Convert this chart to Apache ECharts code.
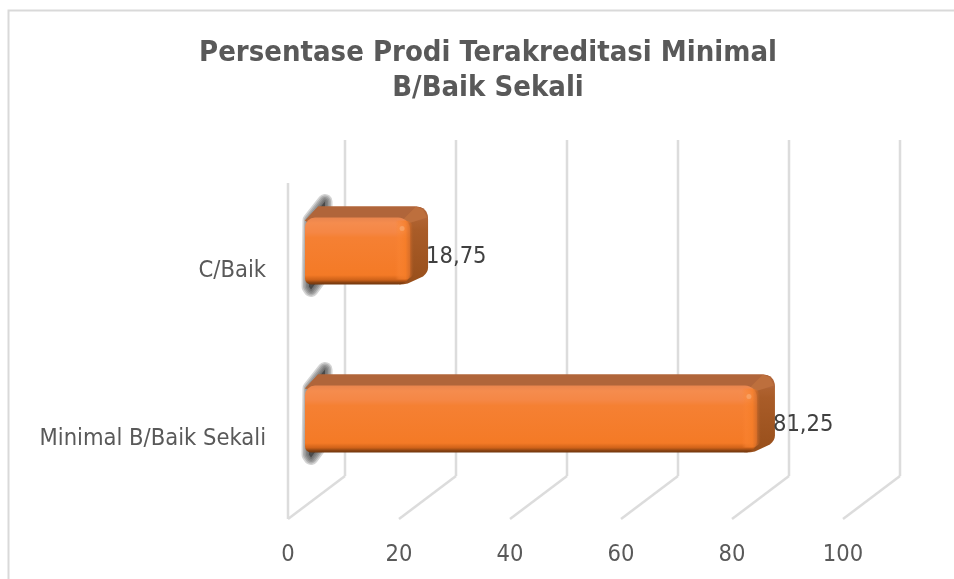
<!DOCTYPE html>
<html><head><meta charset="utf-8">
<style>html,body{margin:0;padding:0;background:#fff}#c{width:954px;height:579px}</style>
<script src="https://cdn.jsdelivr.net/npm/echarts@6/dist/echarts.min.js"></script>
</head><body><div id="c"></div>
<script>
var categories = ['Minimal B/Baik Sekali', 'C/Baik'];
var values = [81.25, 18.75];
var valueLabels = ['81,25', '18,75'];
var ticks = [0, 20, 40, 60, 80, 100];
var titleText = 'Persentase Prodi Terakreditasi Minimal\nB/Baik Sekali';
var FONT = 'DejaVu Sans Condensed, DejaVu Sans';
var chart = echarts.init(document.getElementById('c'), null, {renderer:'canvas'});
var DX = 57, DY = 43;
function wallItem(params, api) {
  var v = api.value(0);
  var p = api.coord([v, 0]);
  var cs = params.coordSys;
  var x = p[0], bottom = cs.y + cs.height, top = cs.y;
  var st = {stroke:'#dcdcdc', lineWidth:2.5, fill:null};
  var kids = [
    {type:'line', shape:{x1:x, y1:bottom, x2:x+DX, y2:bottom-DY}, style:st},
    {type:'line', shape:{x1:x+DX, y1:bottom-DY, x2:x+DX, y2:top-DY}, style:st}
  ];
  if (v === 0) kids.push({type:'line', shape:{x1:x, y1:bottom, x2:x, y2:top}, style:st});
  return {type:'group', children:kids};
}
function barItem(params, api) {
  var v = api.value(0), c = api.value(1);
  var end = api.coord([v, c]), start = api.coord([0, c]);
  var ox = 17, oy = -16, h = 67, dx = 18, dy = 11;
  var x0 = start[0] + ox, x1 = end[0] + ox + 1, yc = end[1] + oy;
  var t = yc - h/2, b = yc + h/2;
  var ox1 = x1 + dx, ty = t - dy, by = b - dy;
  var sil = 'M '+(x0+2)+','+(t+3)+' L '+(x0+dx-3)+','+ty+' L '+(ox1-13)+','+ty+
    ' Q '+ox1+','+ty+' '+ox1+','+(ty+13)+' L '+ox1+','+(by-6)+
    ' Q '+ox1+','+(by-1)+' '+(ox1-5)+','+(by+3)+' L '+(x1-2)+','+(b-1)+' Q '+(x1-6)+','+b+' '+(x1-10)+','+b+' Z';
  var back = {type:'path', shape:{pathData:sil, layout:'cover', x:x0, y:ty, width:ox1-x0, height:b-ty}, style:{
    fill:{type:'linear',x:0,y:0,x2:0,y2:1,colorStops:[{offset:0,color:'#b86b3c'},{offset:0.3,color:'#a95c28'},{offset:1,color:'#984f1b'}]}}};
  var topPath = 'M '+(x0+2)+','+(t+3)+' L '+(x0+dx-3)+','+ty+' L '+(ox1-13)+','+ty+
    ' Q '+(ox1-1)+','+ty+' '+ox1+','+(ty+13)+' L '+(x1-3)+','+(t+4)+' Z';
  var top = {type:'path', shape:{pathData:topPath, layout:'cover', x:x0, y:ty, width:ox1-x0, height:t+4-ty}, style:{fill:'#b0653a'}};
  var cor = {type:'polygon', shape:{points:[[x1-6,t+1],[ox1-12,ty],[ox1-5,ty+3],[ox1-1,ty+11],[x1-2,t+6]]},
    style:{fill:'#bd6f3d'}};
  var face = {type:'rect', shape:{x:x0,y:t,width:x1-x0,height:h,r:[10,12,12,6]},
    style:{fill:{type:'linear',x:0,y:0,x2:0,y2:1,colorStops:[
      {offset:0,color:'#e8854e'},{offset:0.08,color:'#f58c4e'},{offset:0.22,color:'#f58745'},{offset:0.3,color:'#f58033'},
      {offset:0.86,color:'#f47a26'},{offset:0.93,color:'#cf6219'},{offset:0.97,color:'#8c4412'},{offset:1,color:'#6f350c'}]}}};
  var rim = {type:'rect', shape:{x:x1-15,y:t+3,width:19,height:h-8,r:[0,9,9,0]},
    style:{fill:{type:'linear',x:0,y:0,x2:1,y2:0,colorStops:[{offset:0,color:'rgba(250,130,50,0)'},{offset:0.2,color:'rgba(250,132,50,0.5)'},{offset:0.55,color:'rgba(245,125,40,0.8)'},{offset:0.8,color:'rgba(205,105,40,0.75)'},{offset:1,color:'rgba(170,92,40,0)'}]}}};
  var spot = {type:'circle', shape:{cx:x1-8,cy:t+11,r:2.5}, style:{fill:'rgba(250,175,120,0.6)',shadowBlur:6,shadowColor:'rgba(250,175,120,0.8)'}};
  var shPts = [[x0+5,t+3],[x0+20,t-16],[x0+20,b-14],[x0+6,b+5],[x0+4,b+2]];
  var kids = [];
  [15,12,9,6,3].forEach(function(w){
    kids.push({type:'polygon', shape:{points:shPts}, style:{fill:'rgba(60,60,60,0.22)', stroke:'rgba(60,60,60,0.22)', lineWidth:w, lineJoin:'round'}});
  });
  var lbl = {type:'text', x:ox1-2, y:yc+6, style:{text:api.value(2), font:'23.5px '+FONT, fill:'#404040', textAlign:'left', textVerticalAlign:'middle'}};
  return {type:'group', children:kids.concat([back, top, cor, face, rim, spot, lbl])};
}
chart.setOption({
  animation:false,
  backgroundColor:'#ffffff',
  title:{text:titleText, left:483, top:31, textAlign:'center',
    textStyle:{color:'#595959', fontFamily:FONT, fontWeight:'bold', fontSize:29, lineHeight:35, align:'center'}},
  graphic:[
    {type:'polyline', silent:true, z:-1, shape:{points:[[8.5,579],[8.5,10.5],[954,10.5]]}, style:{stroke:'#d9d9d9', lineWidth:2, fill:null}}
  ],
  grid:{left:288, top:183, width:555, height:336, containLabel:false},
  xAxis:{type:'value', min:0, max:100, interval:20, splitLine:{show:false}, axisLine:{show:false}, axisTick:{show:false},
    axisLabel:{color:'#595959', fontFamily:FONT, fontSize:23.5, margin:24, hideOverlap:false}},
  yAxis:{type:'category', data:categories, axisLine:{show:false}, axisTick:{show:false}, splitLine:{show:false},
    axisLabel:{color:'#595959', fontFamily:FONT, fontSize:23.5, margin:22, formatter:'{a|{value}}',
      rich:{a:{color:'#595959', fontFamily:FONT, fontSize:23.5, padding:[8,0,0,0]}}}},
  series:[
    {type:'custom', name:'walls', silent:true, z:1, clip:false, renderItem:wallItem, encode:{x:0}, data:ticks.map(function(t){return [t];})},
    {type:'custom', name:'Persentase', z:2, clip:false, renderItem:barItem, encode:{x:0,y:1},
      data:values.map(function(v,i){return [v,i,valueLabels[i]];})}
  ]
});
</script></body></html>
